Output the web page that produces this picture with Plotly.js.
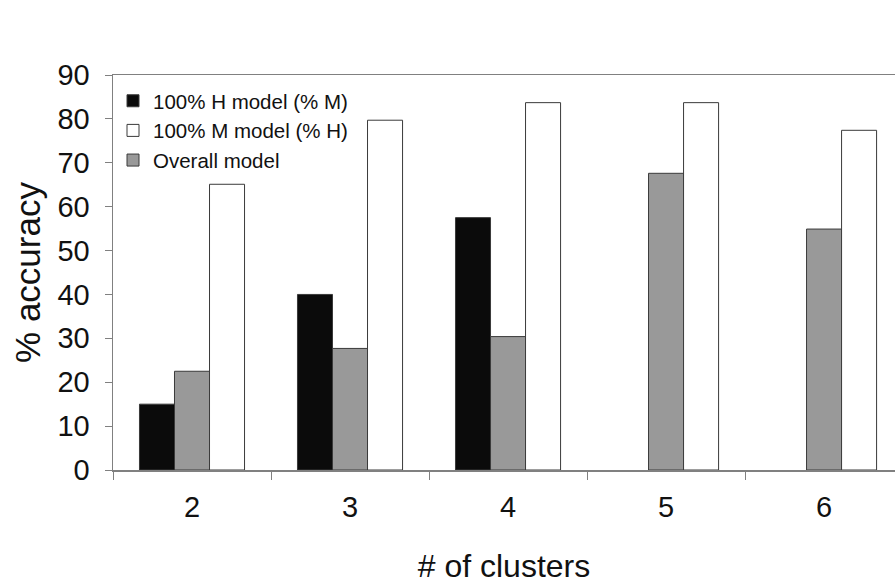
<!DOCTYPE html>
<html>
<head>
<meta charset="utf-8">
<script src="https://cdn.plot.ly/plotly-3.0.1.min.js"></script>
<style>html,body{margin:0;padding:0;background:#fff;}#chart{width:895px;height:586px;}</style>
</head>
<body>
<div id="chart"></div>
<script>
const categories = ["2", "3", "4", "5", "6"];
const hModel = [15, 40, 57.5, null, null];
const overallModel = [22.5, 27.7, 30.4, 67.6, 54.9];
const mModel = [65.1, 79.7, 83.7, 83.7, 77.4];
const seriesNames = ["100% H model (% M)", "100% M model (% H)", "Overall model"];
const yTicks = [0, 10, 20, 30, 40, 50, 60, 70, 80, 90];

const font = "Liberation Sans, Arial, sans-serif";
const outline = {color: "#3a3a3a", width: 1};

const traces = [
  {type: "bar", x: categories, y: hModel, name: seriesNames[0], legendrank: 1,
   marker: {color: "#0b0b0b", line: outline}},
  {type: "bar", x: categories, y: overallModel, name: seriesNames[2], legendrank: 3,
   marker: {color: "#999999", line: outline}},
  {type: "bar", x: categories, y: mModel, name: seriesNames[1], legendrank: 2,
   marker: {color: "#ffffff", line: outline}}
];

const layout = {
  width: 895, height: 586,
  margin: {l: 113, r: 0, t: 75, b: 116},
  paper_bgcolor: "#fff", plot_bgcolor: "#fff",
  barmode: "group", bargap: 0.335, bargroupgap: 0,
  showlegend: true,
  legend: {x: 0.0, y: 0.985, xanchor: "left", yanchor: "top",
           font: {family: font, size: 20.5, color: "#111"},
           bgcolor: "rgba(0,0,0,0)", tracegroupgap: 0, itemwidth: 30},
  xaxis: {
    type: "category", range: [-0.5, 4.449],
    showline: true, linecolor: "#808080", linewidth: 1.5, mirror: true,
    ticks: "outside", tickson: "boundaries", ticklen: 8, tickcolor: "#808080",
    tickfont: {family: font, size: 29, color: "#111"},
    ticklabelstandoff: 11,
    showgrid: false, zeroline: false, automargin: false,
    title: {text: "# of clusters", font: {family: font, size: 32, color: "#111"}, standoff: 32}
  },
  yaxis: {
    range: [0, 90], tickvals: yTicks, ticktext: yTicks.map(String),
    showline: true, linecolor: "#808080", linewidth: 1.5,
    ticks: "outside", ticklen: 7, tickcolor: "#808080",
    tickfont: {family: font, size: 29, color: "#111"},
    ticklabelstandoff: 9,
    showgrid: false, zeroline: false, automargin: false,
    title: {text: "% accuracy", font: {family: font, size: 35, color: "#111"}, standoff: 6}
  }
};

Plotly.newPlot("chart", traces, layout, {staticPlot: true, displayModeBar: false});
</script>
</body>
</html>
